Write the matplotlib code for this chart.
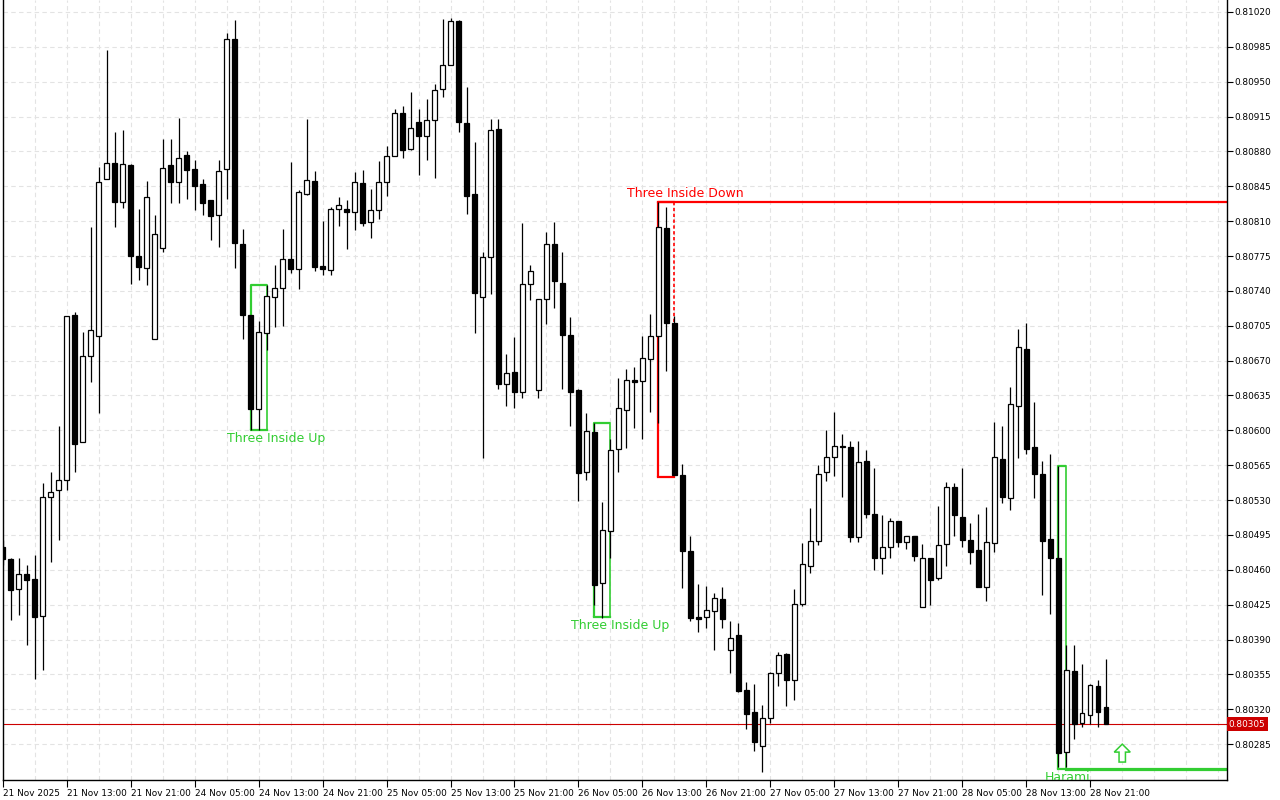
import matplotlib
matplotlib.use('Agg')
import matplotlib.pyplot as plt
from matplotlib.patches import Rectangle

# ---- data (price in points of 0.00001) ----
opens = [80483,80471,80441,80456,80451,80414,80533,80540,80550,80716,80588,80675,80695,80852,80868,80829,
         80866,80775,80763,80692,80783,80866,80849,80876,80862,80847,80831,80816,80862,80993,80787,80716,
         80621,80698,80734,80743,80772,80762,80837,80850,80765,80761,80822,80822,80819,80848,80809,80821,
         80849,80875,80919,80882,80910,80895,80912,80943,80967,81011,80909,80837,80734,80774,80903,80647,
         80659,80638,80747,80641,80732,80787,80748,80696,80640,80558,80598,80447,80499,80581,80620,80651,
         80650,80672,80695,80803,80708,80555,80479,80413,80413,80419,80431,80380,80395,80339,80317,80283,
         80311,80356,80375,80349,80426,80464,80489,80558,80573,80584,80583,80493,80569,80516,80472,80483,
         80509,80488,80494,80423,80472,80452,80486,80543,80513,80490,80480,80443,80487,80571,80532,80624,
         80682,80583,80556,80491,80472,80277,80358,80306,80314,80343,80322]
highs = [80490,80472,80472,80465,80475,80547,80558,80604,80715,80719,80699,80804,80864,80982,80899,80901,
         80867,80822,80850,80816,80892,80892,80914,80880,80871,80852,80831,80871,80999,81012,80802,80716,
         80710,80746,80766,80802,80869,80841,80913,80860,80810,80824,80834,80831,80859,80861,80842,80870,
         80885,80923,80926,80940,80923,80933,80948,81013,81014,81012,80945,80889,80779,80913,80913,80677,
         80694,80808,80766,80732,80799,80809,80779,80714,80642,80617,80607,80528,80591,80653,80662,80664,
         80695,80717,80829,80824,80715,80566,80494,80446,80444,80437,80443,80409,80407,80347,80345,80324,
         80357,80377,80376,80441,80487,80522,80565,80600,80618,80596,80589,80589,80580,80562,80515,80512,
         80509,80494,80494,80486,80472,80524,80548,80547,80562,80507,80516,80523,80608,80604,80644,80702,
         80708,80628,80569,80576,80564,80385,80385,80365,80345,80349,80370]
lows = [80465,80410,80415,80385,80350,80359,80468,80490,80540,80558,80588,80649,80617,80852,80804,80823,
        80747,80751,80746,80692,80779,80828,80828,80832,80821,80816,80791,80784,80832,80763,80692,80600,
        80600,80681,80704,80705,80758,80742,80836,80760,80756,80756,80805,80782,80801,80805,80793,80812,
        80835,80875,80873,80881,80856,80871,80853,80935,80967,80899,80817,80698,80572,80737,80642,80624,
        80622,80632,80731,80632,80707,80723,80642,80604,80529,80550,80425,80412,80472,80558,80582,80602,
        80591,80618,80607,80660,80555,80442,80409,80398,80402,80380,80402,80356,80337,80300,80278,80257,
        80306,80343,80323,80329,80424,80457,80485,80549,80554,80533,80488,80488,80512,80460,80456,80472,
        80483,80481,80469,80423,80425,80450,80464,80494,80483,80466,80443,80429,80478,80527,80520,80572,
        80576,80532,80435,80416,80262,80262,80290,80302,80305,80302,80305]
closes = [80471,80440,80456,80450,80413,80533,80538,80550,80715,80586,80675,80701,80849,80868,80829,80867,
          80775,80764,80834,80797,80863,80849,80873,80861,80845,80828,80815,80860,80993,80788,80716,80621,
          80699,80735,80743,80772,80762,80839,80851,80764,80762,80822,80826,80819,80849,80808,80821,80849,
          80875,80919,80881,80904,80895,80912,80942,80967,81011,80910,80835,80738,80774,80902,80647,80658,
          80638,80747,80760,80732,80787,80750,80696,80638,80557,80599,80445,80500,80580,80622,80651,80649,
          80673,80695,80804,80708,80555,80479,80412,80411,80420,80432,80411,80392,80338,80315,80287,80311,
          80356,80374,80349,80426,80466,80489,80556,80573,80584,80583,80493,80568,80516,80472,80483,80509,
          80488,80494,80474,80472,80450,80485,80543,80515,80490,80478,80443,80488,80573,80533,80626,80684,
          80581,80556,80489,80472,80276,80359,80305,80316,80344,80317,80305]

time_label_bars = [0, 8, 16, 24, 32, 40, 48, 56, 64, 72, 80, 88, 96, 104, 112, 120, 128, 136]
time_labels = ['21 Nov 2025', '21 Nov 13:00', '21 Nov 21:00', '24 Nov 05:00', '24 Nov 13:00',
               '24 Nov 21:00', '25 Nov 05:00', '25 Nov 13:00', '25 Nov 21:00', '26 Nov 05:00',
               '26 Nov 13:00', '26 Nov 21:00', '27 Nov 05:00', '27 Nov 13:00', '27 Nov 21:00',
               '28 Nov 05:00', '28 Nov 13:00', '28 Nov 21:00']
price_ticks = [0.80285, 0.80320, 0.80355, 0.80390, 0.80425, 0.80460, 0.80495, 0.80530, 0.80565,
               0.80600, 0.80635, 0.80670, 0.80705, 0.80740, 0.80775, 0.80810, 0.80845, 0.80880,
               0.80915, 0.80950, 0.80985, 0.81020]
current_price = 0.80305

# patterns: (name, first bar, last bar, top, bottom, colour, label bar, above?)
pattern_names = ['Three Inside Up', 'Three Inside Up', 'Three Inside Down', 'Harami']
pattern_first = [31, 74, 82, 132]
pattern_last = [33, 76, 84, 133]
pattern_top = [0.80746, 0.806075, 0.808295, 0.80564]
pattern_bottom = [0.80600, 0.804125, 0.80553, 0.80260]
pattern_colors = ['#32cd32', '#32cd32', '#ff0000', '#32cd32']
pattern_label_bar = [34.2, 77.2, 85.3, 133.2]
pattern_label_above = [False, False, True, False]

harami_level = 0.80260
resistance_level = 0.808295
arrow_bar = 140
arrow_low, arrow_high = 0.80267, 0.80285

O = [v / 1e5 for v in opens]
H = [v / 1e5 for v in highs]
L = [v / 1e5 for v in lows]
C = [v / 1e5 for v in closes]
idx = list(range(len(O)))

fig = plt.figure(figsize=(12.8, 8), dpi=100)
fig.patch.set_facecolor('white')
ax = fig.add_axes([2.7 / 1280, 20 / 800, (1227 - 2.7) / 1280, 780 / 800])
ax.set_facecolor('white')
ax.set_xlim(0.06, 153.1)
ax.set_ylim(0.80249, 0.81032)

# grid
for p in price_ticks:
    ax.axhline(p, color='#e3e3e3', lw=0.8, ls=(0, (4, 3)), zorder=0)
for b in range(0, 154, 4):
    ax.axvline(b, color='#e3e3e3', lw=0.8, ls=(0, (4, 3)), zorder=0)

# candles
ax.vlines(idx, L, H, color='black', lw=0.9, zorder=2)
mindiff = 0.000012
for i in idx:
    o, c = O[i], C[i]
    lo = min(o, c)
    h = abs(c - o)
    if h < mindiff:
        lo = (o + c) / 2 - mindiff / 2
        h = mindiff
    bull = c > o
    ax.add_patch(Rectangle((i - 0.28, lo), 0.56, h,
                           facecolor='white' if bull else 'black',
                           edgecolor='black', lw=0.9, zorder=3))

# current price line
ax.axhline(current_price, color='#cc0000', lw=0.8, zorder=1)

# pattern boxes and labels
for name, f, l, top, bot, col, lb, above in zip(pattern_names, pattern_first, pattern_last,
                                                  pattern_top, pattern_bottom, pattern_colors,
                                                  pattern_label_bar, pattern_label_above):
    ax.plot([f, f, l], [bot, top, top], color=col, lw=1.6, zorder=1.5, solid_capstyle='butt')
    ax.plot([f, l], [bot, bot], color=col, lw=1.6, zorder=1.5)
    ax.plot([l, l], [top, bot], color=col, lw=1.2, zorder=1.5,
            ls=(0, (2, 1.5)) if col == '#ff0000' else '-')
    if above:
        ax.text(lb, top + 0.00002, name, color=col, fontsize=9, ha='center', va='bottom', zorder=5)
    else:
        ax.text(lb, bot - 0.000015, name, color=col, fontsize=9, ha='center', va='top',
                zorder=5, clip_on=True)

# resistance line after Three Inside Down
ax.plot([pattern_first[2], 160], [resistance_level, resistance_level], color='#ff0000', lw=1.6, zorder=1.5)
# harami support line
ax.plot([pattern_last[3], 160], [harami_level, harami_level], color='#32cd32', lw=2.3, zorder=1.5)
# hollow up arrow
ax.arrow(arrow_bar, arrow_low, 0, arrow_high - arrow_low, width=0.8, head_width=2.0,
         head_length=0.00008, length_includes_head=True, fc='white', ec='#32cd32', lw=1.1, zorder=5)

# axes styling
for s in ['top']:
    ax.spines[s].set_visible(False)
for s in ['left', 'right', 'bottom']:
    ax.spines[s].set_color('black')
    ax.spines[s].set_linewidth(1.0)

ax.yaxis.tick_right()
ax.set_yticks(price_ticks)
ax.set_yticklabels([f'{p:.5f}' for p in price_ticks])
ax.tick_params(axis='y', direction='out', length=4, width=0.8, pad=1.5, labelsize=6.4,
               colors='black', right=True, left=False)
ax.set_xticks(time_label_bars)
ax.set_xticklabels(time_labels, ha='left')
ax.tick_params(axis='x', direction='out', length=5, width=0.8, pad=1.5, labelsize=6.4, colors='black')
for t in ax.get_xticklabels():
    t.set_x(0)

# current price label
ax.text(1.0015, current_price, f'{current_price:.5f}', transform=ax.get_yaxis_transform(),
        ha='left', va='center', fontsize=6.4, color='white', zorder=10, clip_on=False,
        bbox=dict(boxstyle='square,pad=0.25', fc='#cc0000', ec='none'))

fig.savefig('out.png', dpi=100, facecolor='white')
